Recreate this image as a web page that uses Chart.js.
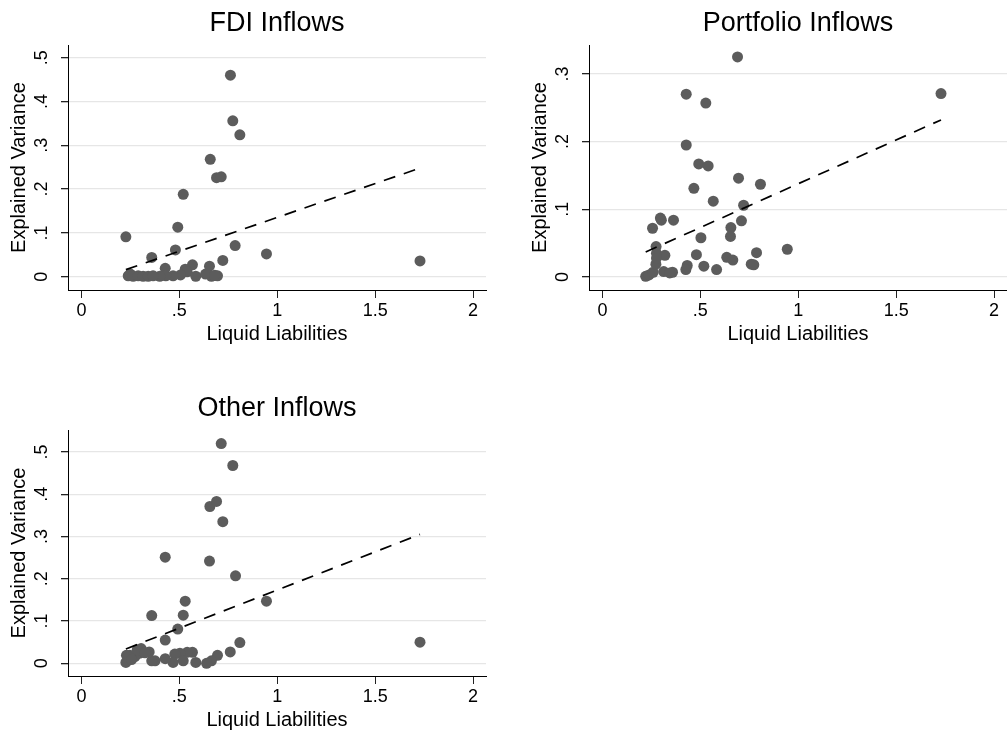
<!DOCTYPE html>
<html>
<head>
<meta charset="utf-8">
<script src="https://cdn.jsdelivr.net/npm/chart.js@4.4.1/dist/chart.umd.min.js"></script>
<style>
  html, body { margin: 0; padding: 0; background: #fff; overflow: hidden; }
  body { width: 1007px; height: 738px; position: relative; }
  canvas { position: absolute; }
</style>
</head>
<body>
<canvas id="fdi" width="500" height="350" style="left:0;top:0"></canvas>
<canvas id="port" width="500" height="350" style="left:521px;top:0"></canvas>
<canvas id="other" width="500" height="351" style="left:0;top:385px"></canvas>
<script>
// tick values
const xTicks = [0, 0.5, 1, 1.5, 2];
const fdiYTicks = [0, 0.1, 0.2, 0.3, 0.4, 0.5];
const portYTicks = [0, 0.1, 0.2, 0.3];
const otherYTicks = [0, 0.1, 0.2, 0.3, 0.4, 0.5];

// FDI inflows
const fdiX = [0.761, 0.773, 0.809, 0.658, 0.690, 0.714, 0.520, 0.492, 0.227, 0.480, 0.785, 0.945, 1.729,
  0.359, 0.722, 0.567, 0.654, 0.428, 0.530, 0.540, 0.584, 0.695, 0.664, 0.634, 0.681, 0.506, 0.468,
  0.431, 0.400, 0.239, 0.250, 0.264, 0.290, 0.315, 0.341, 0.366];
const fdiY = [0.460, 0.356, 0.324, 0.268, 0.226, 0.228, 0.188, 0.113, 0.091, 0.061, 0.071, 0.052, 0.036,
  0.044, 0.037, 0.027, 0.024, 0.019, 0.017, 0.011, 0.001, 0.002, 0.001, 0.006, 0.003, 0.004, 0.002,
  0.002, 0.001, 0.002, 0.006, 0.001, 0.002, 0.001, 0.001, 0.002];
const fdiFitX = [0.227, 1.729];
const fdiFitY = [0.016, 0.248];

// Portfolio inflows
const portX = [0.690, 0.428, 0.528, 1.729, 0.428, 0.492, 0.540, 0.695, 0.807, 0.467, 0.566, 0.721,
  0.296, 0.301, 0.363, 0.710, 0.256, 0.656, 0.654, 0.503, 0.944, 0.274, 0.276, 0.319, 0.480, 0.787,
  0.635, 0.666, 0.760, 0.773, 0.433, 0.426, 0.518, 0.583, 0.313, 0.358, 0.344, 0.221, 0.238, 0.259,
  0.273, 0.276];
const portY = [0.325, 0.270, 0.257, 0.271, 0.195, 0.167, 0.164, 0.146, 0.137, 0.131, 0.112, 0.106,
  0.087, 0.084, 0.084, 0.083, 0.072, 0.073, 0.060, 0.058, 0.041, 0.045, 0.035, 0.032, 0.033, 0.036,
  0.029, 0.025, 0.019, 0.018, 0.017, 0.011, 0.016, 0.011, 0.008, 0.007, 0.006, 0.001, 0.003, 0.007,
  0.019, 0.028];
const portFitX = [0.221, 1.729];
const portFitY = [0.037, 0.232];

// Other inflows
const otherX = [0.714, 0.773, 0.656, 0.690, 0.722, 0.428, 0.654, 0.787, 0.945, 0.530, 0.359, 0.520,
  0.492, 0.428, 1.729, 0.809, 0.760, 0.695, 0.664, 0.639, 0.584, 0.567, 0.540, 0.503, 0.477, 0.520,
  0.468, 0.428, 0.376, 0.359, 0.346, 0.305, 0.298, 0.273, 0.247, 0.227, 0.230, 0.256, 0.285, 0.324];
const otherY = [0.520, 0.468, 0.371, 0.383, 0.335, 0.251, 0.242, 0.207, 0.147, 0.147, 0.113, 0.114,
  0.081, 0.055, 0.050, 0.049, 0.027, 0.019, 0.006, 0.000, 0.002, 0.026, 0.026, 0.024, 0.022, 0.006,
  0.002, 0.011, 0.006, 0.006, 0.027, 0.035, 0.024, 0.016, 0.019, 0.002, 0.019, 0.009, 0.032, 0.025];
const otherFitX = [0.227, 1.729];
const otherFitY = [0.034, 0.305];

const FONT = 'Liberation Sans, Arial, Helvetica, sans-serif';
const fmt = v => (v === 0 ? '0' : String(v).replace(/^0\./, '.'));
const zip = (xs, ys) => xs.map((x, i) => ({ x, y: ys[i] }));

const makeChart = (id, title, xs, ys, fitX, fitY, yTicks, yMin, yMax) => {
  return new Chart(document.getElementById(id), {
    type: 'scatter',
    data: {
      datasets: [
        // fitted line drawn on top of the markers
        { type: 'line', data: zip(fitX, fitY), borderColor: '#000', borderWidth: 1.7,
          borderDash: [12, 9], pointRadius: 0, fill: false, order: 0 },
        { data: zip(xs, ys), pointRadius: 5.5, pointBorderWidth: 0,
          pointBackgroundColor: '#5c5c5c', order: 1 }
      ]
    },
    options: {
      responsive: false, animation: false,
      layout: { padding: { left: 0, right: 14, top: 0, bottom: 0 } },
      plugins: {
        legend: { display: false }, tooltip: { enabled: false },
        title: { display: true, text: title, fullSize: false, color: '#000',
          font: { family: FONT, size: 27, weight: 'normal', lineHeight: 1.2 },
          padding: { top: 7, bottom: 5.6 } }
      },
      scales: {
        x: {
          type: 'linear', min: -0.0685, max: 2.066,
          afterBuildTicks: s => { s.ticks = xTicks.map(v => ({ value: v })); },
          afterFit: s => { s.height = 60; },
          ticks: { callback: fmt, color: '#000', font: { family: FONT, size: 18 }, padding: 2,
            maxRotation: 0, autoSkip: false },
          grid: { drawOnChartArea: false, tickLength: 8, tickColor: '#222', lineWidth: 1 },
          border: { color: '#000', width: 1 },
          title: { display: true, text: 'Liquid Liabilities', color: '#000',
            font: { family: FONT, size: 20, lineHeight: 1.2 }, padding: { top: 0, bottom: 4 } }
        },
        y: {
          type: 'linear', min: yMin, max: yMax,
          afterBuildTicks: s => { s.ticks = yTicks.map(v => ({ value: v })); },
          afterFit: s => { s.width = 68; },
          ticks: { callback: fmt, color: '#000', font: { family: FONT, size: 18 }, padding: 11,
            minRotation: 90, maxRotation: 90, crossAlign: 'center' },
          grid: { color: '#e6e6e6', lineWidth: 1.3, tickLength: 7, tickColor: '#222' },
          border: { color: '#000', width: 1 },
          title: { display: true, text: 'Explained Variance', color: '#000',
            font: { family: FONT, size: 20, lineHeight: 1.2 }, padding: { top: 7, bottom: 0 } }
        }
      }
    }
  });
};

makeChart('fdi', 'FDI Inflows', fdiX, fdiY, fdiFitX, fdiFitY, fdiYTicks, -0.0304, 0.529);
makeChart('port', 'Portfolio Inflows', portX, portY, portFitX, portFitY, portYTicks, -0.0192, 0.3427);
makeChart('other', 'Other Inflows', otherX, otherY, otherFitX, otherFitY, otherYTicks, -0.030, 0.552);
</script>
</body>
</html>
